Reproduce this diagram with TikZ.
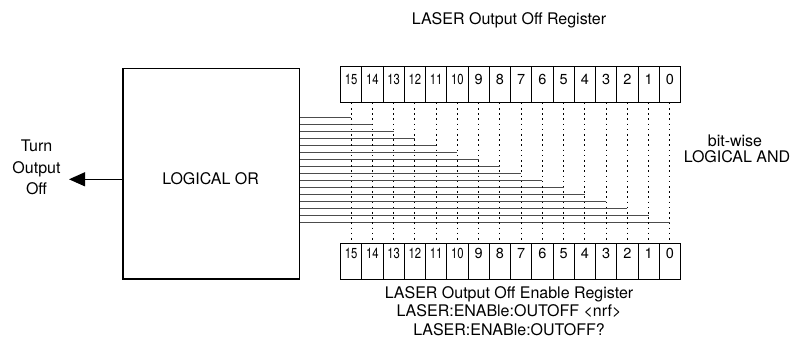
\documentclass[tikz,border=0pt]{standalone}
\usepackage{fontspec}
\setmainfont{TeX Gyre Heros}
\usetikzlibrary{arrows.meta}
\begin{document}
\begin{tikzpicture}[x=1pt,y=-1pt,
  txt/.style={font=\fontsize{16}{18}\selectfont, inner sep=0pt, anchor=base},
  orbox/.style={draw, line width=1.2pt, minimum width=176.7pt, minimum height=210.6pt, inner sep=0pt, anchor=north west},
  topcell/.style={draw, line width=1.1pt, minimum width=21.25pt, inner sep=0pt, anchor=north west,
    text height=17.5pt, text depth=18.2pt, font=\fontsize{14.5}{15}\selectfont},
  botcell/.style={draw, line width=1.1pt, minimum width=21.25pt, inner sep=0pt, anchor=north west,
    text height=14.3pt, text depth=21.4pt, font=\fontsize{14.5}{15}\selectfont},
  dotline/.style={line width=1.1pt, dash pattern=on 1.6pt off 3.6pt},
  bitline/.style={line width=1pt, black!70},
  outarrow/.style={line width=1.1pt, -{Triangle[length=16pt,width=14pt]}}
]
\useasboundingbox (0,0) rectangle (799,352);

% logical OR box
\node[orbox] (box) at (122.3,67.7) {};
\node[txt] (ortext) at (210.6,185) {LOGICAL OR};

% registers
\foreach \k in {0,...,15}{
  \pgfmathsetmacro{\xl}{340+(15-\k)*21.25}
  \ifnum\k>9
    \node[topcell] (t\k) at (\xl,66) {\scalebox{0.78}[1]{\k}};
    \node[botcell] (b\k) at (\xl,243.3) {\scalebox{0.78}[1]{\k}};
  \else
    \node[topcell] (t\k) at (\xl,66) {\k};
    \node[botcell] (b\k) at (\xl,243.3) {\k};
  \fi
  \draw[dotline] (t\k.south) -- (b\k.north);
  \pgfmathsetmacro{\yl}{117.7+(15-\k)*7}
  \coordinate (s\k) at (box.east |- 0,\yl);
  \coordinate (e\k) at (t\k.south |- 0,\yl);
  \draw[bitline] (s\k) -- (e\k);
}

% output arrow
\coordinate (tip) at (69,179.3);
\draw[outarrow] (box.west |- tip) -- (tip);

% labels
\node[txt] (title) at (509,25) {LASER Output Off Register};
\node[txt] (and1) at (735,146.7) {bit-wise};
\node[txt] (and2) at (737,162.7) {LOGICAL AND};
\node[txt] (turn1) at (36.5,151.5) {Turn};
\node[txt] (turn2) at (36.5,173.2) {Output};
\node[txt] (turn3) at (36.5,194.9) {Off};
\node[txt] (en1) at (509,298.3) {LASER Output Off Enable Register};
\node[txt] (en2) at (509,316.7) {LASER:ENABle:OUTOFF <nrf>};
\node[txt] (en3) at (509,335) {LASER:ENABle:OUTOFF?};
\end{tikzpicture}
\end{document}
